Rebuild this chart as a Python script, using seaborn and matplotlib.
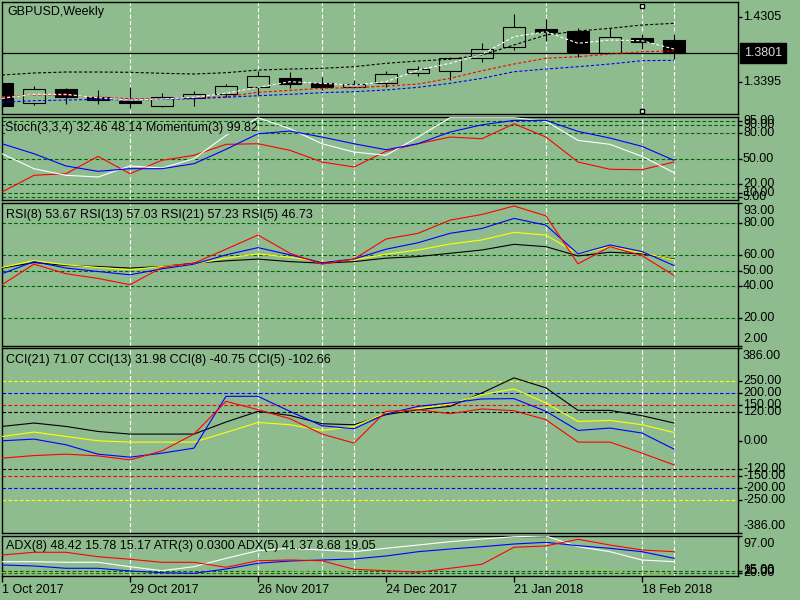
import matplotlib
matplotlib.use("Agg")
import matplotlib.pyplot as plt
import seaborn as sns
import numpy as np

plt.rcParams["font.family"] = ["Liberation Sans", "DejaVu Sans"]
plt.rcParams["font.size"] = 9
plt.rcParams["lines.scale_dashes"] = False

BG = "#8FBC8F"
LEVEL = "#006400"

# weekly bars, 1 Oct 2017 .. 25 Feb 2018
date_labels = ["1 Oct 2017", "29 Oct 2017", "26 Nov 2017", "24 Dec 2017", "21 Jan 2018", "18 Feb 2018"]
date_bars = [0, 4, 8, 12, 16, 20]
grid_bars = [4, 8, 10, 11, 17, 20, 21]

opens = [1.3372, 1.3090, 1.3288, 1.3175, 1.3122, 1.3056, 1.3160, 1.3217, 1.3316, 1.3447, 1.3377,
         1.3316, 1.3372, 1.3514, 1.3550, 1.3726, 1.3890, 1.4135, 1.4107, 1.3805, 1.4012, 1.3984]
highs = [1.3380, 1.3334, 1.3302, 1.3278, 1.3316, 1.3231, 1.3264, 1.3362, 1.3546, 1.3532, 1.3457,
         1.3419, 1.3550, 1.3617, 1.3750, 1.3938, 1.4352, 1.4281, 1.4154, 1.4149, 1.4065, 1.4073]
lows = [1.3045, 1.3066, 1.3076, 1.3076, 1.3028, 1.3042, 1.3056, 1.3183, 1.3207, 1.3310, 1.3278,
        1.3302, 1.3324, 1.3476, 1.3419, 1.3678, 1.3843, 1.3974, 1.3740, 1.3800, 1.3853, 1.3712]
closes = [1.3052, 1.3288, 1.3175, 1.3132, 1.3090, 1.3183, 1.3217, 1.3330, 1.3471, 1.3367, 1.3316,
          1.3358, 1.3504, 1.3570, 1.3726, 1.3853, 1.4164, 1.4102, 1.3819, 1.4022, 1.3960, 1.3801]

ma_black = [1.3490, 1.3518, 1.3532, 1.3532, 1.3528, 1.3514, 1.3504, 1.3522, 1.3560, 1.3574, 1.3584,
            1.3607, 1.3655, 1.3687, 1.3712, 1.3772, 1.3914, 1.4055, 1.4111, 1.4149, 1.4196, 1.4220]
ma_red = [1.3183, 1.3207, 1.3207, 1.3175, 1.3155, 1.3155, 1.3169, 1.3183, 1.3245, 1.3273, 1.3302,
          1.3310, 1.3334, 1.3362, 1.3443, 1.3550, 1.3645, 1.3726, 1.3748, 1.3786, 1.3819, 1.3829]
ma_blue = [1.3104, 1.3127, 1.3136, 1.3146, 1.3136, 1.3146, 1.3155, 1.3175, 1.3197, 1.3217, 1.3240,
           1.3254, 1.3278, 1.3316, 1.3372, 1.3443, 1.3536, 1.3574, 1.3607, 1.3645, 1.3692, 1.3697]
ma_white = [1.3160, 1.3217, 1.3217, 1.3169, 1.3136, 1.3151, 1.3175, 1.3231, 1.3316, 1.3395, 1.3372,
            1.3348, 1.3395, 1.3560, 1.3655, 1.3782, 1.4031, 1.4102, 1.3938, 1.3984, 1.3974, 1.3857]

stoch_main = [55.9, 38.2, 30.4, 28.4, 41.4, 39.0, 50.0, 77.6, 98.4, 85.4, 67.7,
              57.9, 54.0, 75.6, 98.4, 98.4, 98.4, 94.2, 71.7, 67.0, 52.8, 33.5]
stoch_signal = [67.7, 55.9, 41.4, 35.1, 38.2, 38.2, 44.1, 61.1, 79.5, 82.7, 75.6,
                67.7, 60.6, 67.7, 81.5, 90.1, 95.3, 95.3, 82.3, 74.4, 64.6, 48.1]
momentum = [10.7, 30.4, 32.3, 52.8, 32.3, 48.1, 54.0, 67.0, 67.7, 59.9, 46.1,
            40.2, 58.7, 67.7, 75.6, 73.6, 91.3, 75.6, 46.1, 37.5, 37.0, 46.1]

rsi5 = [41.0, 54.1, 48.0, 45.0, 41.0, 52.0, 54.7, 63.6, 72.6, 61.0, 54.1,
        57.3, 70.1, 73.7, 82.1, 85.7, 91.1, 84.8, 54.3, 65.2, 59.5, 46.9]
rsi8 = [48.0, 55.7, 51.6, 49.4, 47.3, 51.1, 54.1, 60.0, 64.6, 60.0, 55.1,
        57.3, 63.6, 67.7, 73.7, 76.8, 83.2, 78.9, 60.6, 66.3, 62.1, 53.2]
rsi13 = [52.0, 56.4, 53.7, 52.0, 50.5, 52.6, 54.1, 57.9, 60.6, 58.5, 55.6,
         56.8, 60.4, 63.1, 66.9, 69.5, 74.3, 72.6, 60.6, 65.2, 61.4, 56.8]
rsi21 = [51.6, 55.1, 53.2, 52.6, 51.6, 52.6, 54.7, 56.2, 57.3, 55.7, 54.7,
         55.7, 57.9, 58.9, 61.0, 63.1, 66.7, 65.2, 59.3, 61.7, 60.6, 57.3]

cci21 = [58.7, 72.9, 58.7, 37.7, 26.8, 26.8, 26.8, 77.1, 121.5, 104.7, 70.0,
         65.8, 107.7, 128.6, 142.4, 198.6, 261.4, 219.5, 125.7, 125.7, 103.5, 72.9]
cci13 = [16.8, 35.2, 16.8, -1.3, -6.7, -6.7, -6.7, 33.5, 75.4, 65.8, 41.9,
         58.7, 114.8, 132.8, 152.5, 191.5, 215.3, 156.7, 79.6, 83.8, 65.8, 33.5]
cci8 = [-1.3, 5.9, -18.0, -57.0, -69.5, -52.8, -31.8, 184.3, 184.3, 121.5, 61.6,
        49.0, 110.6, 142.4, 156.7, 173.4, 174.7, 121.5, 41.9, 51.9, 31.0, -36.0]
cci5 = [-73.7, -62.8, -57.0, -64.1, -80.9, -43.2, 26.8, 163.4, 128.6, 90.9, 26.8,
        -10.9, 121.5, 128.6, 111.9, 131.5, 124.4, 86.7, -6.7, -6.7, -52.8, -101.8]

adx_red = [57.6, 63.2, 63.2, 54.0, 48.7, 42.4, 42.4, 32.1, 45.7, 47.2, 45.7,
           27.9, 25.0, 21.7, 30.0, 38.3, 73.6, 76.3, 90.2, 78.3, 68.0, 64.4]
adx_blue = [36.8, 34.8, 30.0, 30.0, 24.4, 20.8, 19.6, 28.5, 40.4, 45.1, 47.2,
            49.3, 55.5, 64.4, 70.0, 74.8, 80.4, 83.9, 76.9, 71.5, 64.4, 50.7]
adx_white = [43.7, 43.7, 42.4, 42.4, 33.3, 25.0, 33.3, 50.7, 66.5, 71.5, 68.0,
             64.4, 71.5, 78.3, 85.2, 90.8, 95.5, 97.0, 74.8, 64.4, 47.2, 43.7]
adx_olive = [20.8, 20.8, 20.8, 20.8, 20.8, 20.8, 20.8, 20.8, 21.7, 22.3, 22.9,
             25.0, 34.8, 43.7, 54.0, 61.1, 68.0, 45.7, 33.3, 25.0, 19.6, 19.6]

x = np.arange(len(closes))

fig = plt.figure(figsize=(8, 6), dpi=100, facecolor=BG)


def panel(top_px, bottom_px, ylim):
    ax = fig.add_axes([2 / 800, 1 - bottom_px / 600, 736 / 800, (bottom_px - top_px) / 600])
    ax.set_facecolor(BG)
    ax.set_xlim(0, 23)
    ax.set_ylim(*ylim)
    for s in ax.spines.values():
        s.set_color("black")
        s.set_linewidth(1)
    ax.set_xticks([])
    ax.tick_params(axis="y", left=False, labelleft=False, right=True, labelright=False,
                   length=3, width=1, color="black", direction="out")
    for b in grid_bars:
        ax.axvline(b, color="white", lw=0.8, dashes=(3, 1.6), zorder=1)
    return ax


def rlabel(ax, y, text, va="center", dy=0, **kw):
    ax.annotate(text, xy=(1, y), xycoords=("axes fraction", "data"), xytext=(3.6, dy),
                textcoords="offset points", va=va, ha="left", annotation_clip=False, **kw)


def title(ax, text, dy_px, dx_px=4, cover=False):
    box = dict(facecolor=BG, edgecolor="none", pad=0) if cover else None
    ax.annotate(text, xy=(0, 1), xycoords="axes fraction", xytext=(dx_px * 0.72, -dy_px * 0.72),
                textcoords="offset points", va="center", ha="left", zorder=10, bbox=box)


def line(ax, vals, color, dashed=False, lw=0.8):
    sns.lineplot(x=x, y=vals, ax=ax, color=color, linewidth=lw, estimator=None, zorder=4)
    if dashed:
        ax.lines[-1].set_dashes((2.2, 1.5))
    ax.set_xlabel("")
    ax.set_ylabel("")


def levels(ax, vals, colors):
    for v, c in zip(vals, colors):
        ax.axhline(v, color=c, lw=0.8, dashes=(2.6, 1.6), zorder=2)


# ---- main price panel ----
ax0 = panel(2, 114, (1.2939, 1.4521))
for i in x:
    up = closes[i] >= opens[i]
    ax0.vlines(i, lows[i], highs[i], color="black", lw=0.8, zorder=2)
    lo, hi = min(opens[i], closes[i]), max(opens[i], closes[i])
    ax0.bar(i, max(hi - lo, 0.0003), bottom=lo, width=0.69, color=BG if up else "black",
            edgecolor="black", linewidth=0.8, zorder=3)
line(ax0, ma_black, "black", dashed=True)
line(ax0, ma_red, "red", dashed=True)
line(ax0, ma_blue, "blue", dashed=True)
line(ax0, ma_white, "white", dashed=True)
ax0.axhline(closes[-1], color="black", lw=0.9, zorder=3)
ax0.set_yticks([1.4305, 1.3395])
rlabel(ax0, 1.4305, "1.4305")
rlabel(ax0, 1.3395, "1.3395")
ax0.annotate(f"{closes[-1]:.4f}", xy=(1, closes[-1]), xycoords=("axes fraction", "data"),
             xytext=(4.3, 0), textcoords="offset points", va="center", ha="left",
             color="#D8D8D8", annotation_clip=False,
             bbox=dict(boxstyle="square,pad=0.3", facecolor="black", edgecolor="black"))
for yy in (0.967, 0.027):
    ax0.plot(20, yy, marker="s", ms=3.5, mfc="white", mec="black", mew=1,
             transform=ax0.get_xaxis_transform(), clip_on=False, zorder=6)
title(ax0, "GBPUSD,Weekly", 10, 5)

# ---- stochastic / momentum ----
ax1 = panel(117, 200, (1.2, 99.3))
stoch_lv = [95, 90, 80, 50, 20, 10, 5]
levels(ax1, stoch_lv, [LEVEL] * len(stoch_lv))
line(ax1, momentum, "red")
line(ax1, stoch_main, "white")
line(ax1, stoch_signal, "blue")
ax1.set_yticks(stoch_lv)
for v in stoch_lv:
    rlabel(ax1, v, f"{v:.2f}")
title(ax1, "Stoch(3,3,4) 32.46 48.14 Momentum(3) 99.82", 10.7, 3, cover=True)

# ---- RSI ----
ax2 = panel(203, 346, (2, 93))
rsi_lv = [80, 60, 50, 40, 20]
levels(ax2, rsi_lv, [LEVEL] * len(rsi_lv))
line(ax2, rsi21, "black")
line(ax2, rsi13, "yellow")
line(ax2, rsi8, "blue")
line(ax2, rsi5, "red")
ax2.set_yticks([93] + rsi_lv + [2])
rlabel(ax2, 93, "93.00", va="top", dy=-1.5)
for v in rsi_lv:
    rlabel(ax2, v, f"{v:.2f}")
rlabel(ax2, 2, "2.00", va="bottom", dy=1)
title(ax2, "RSI(8) 53.67 RSI(13) 57.03 RSI(21) 57.23 RSI(5) 46.73", 12, 4)

# ---- CCI ----
ax3 = panel(348, 533, (-386, 386))
cci_lv = [250, 200, 150, 120, -120, -150, -200, -250]
levels(ax3, cci_lv, ["yellow", "blue", "red", "black", "black", "red", "blue", "yellow"])
line(ax3, cci21, "black")
line(ax3, cci13, "yellow")
line(ax3, cci8, "blue")
line(ax3, cci5, "red")
ax3.set_yticks([386] + cci_lv + [0, -386])
rlabel(ax3, 386, "386.00", va="top", dy=-1.5)
for v in cci_lv + [0]:
    rlabel(ax3, v, f"{v:.2f}")
rlabel(ax3, -386, "-386.00", va="bottom", dy=1)
title(ax3, "CCI(21) 71.07 CCI(13) 31.98 CCI(8) -40.75 CCI(5) -102.66", 12, 4)

# ---- ADX / ATR ----
ax4 = panel(536, 576, (14, 97))
levels(ax4, [25, 20], [LEVEL, LEVEL])
line(ax4, adx_olive, "#9ACD32", dashed=True)
line(ax4, adx_white, "white")
line(ax4, adx_blue, "blue")
line(ax4, adx_red, "red")
ax4.set_yticks([97, 25, 20])
rlabel(ax4, 97, "97.00", va="top", dy=-1.5)
rlabel(ax4, 25, "25.00")
rlabel(ax4, 20, "20.00")
rlabel(ax4, 14, "15.00", va="bottom")
title(ax4, "ADX(8) 48.42 15.78 15.17 ATR(3) 0.0300 ADX(5) 41.37 8.68 19.05", 10, 4)

ax4.set_xticks(date_bars)
ax4.set_xticklabels(date_labels, ha="left")
ax4.tick_params(axis="x", bottom=True, labelbottom=True, length=4, width=1,
                color="black", direction="out", pad=2)

fig.savefig("out.png", dpi=100, facecolor=BG)
